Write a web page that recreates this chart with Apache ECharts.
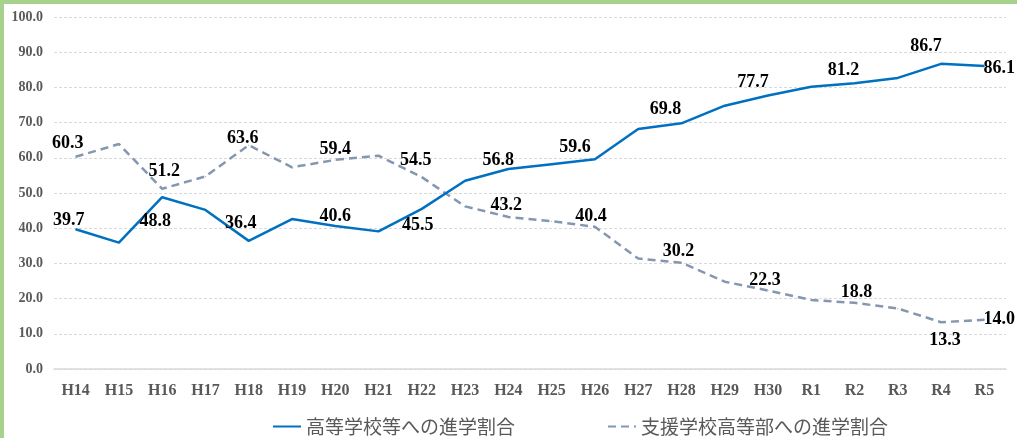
<!DOCTYPE html>
<html>
<head>
<meta charset="utf-8">
<script src="https://cdn.jsdelivr.net/npm/echarts@6/dist/echarts.min.js"></script>
<style>
  html, body { margin: 0; padding: 0; background: #fff; }
  #chart { width: 1017px; height: 438px; }
</style>
</head>
<body>
<div id="chart"></div>
<script>
// 年度
const categories = ["H14", "H15", "H16", "H17", "H18", "H19", "H20", "H21", "H22", "H23", "H24",
  "H25", "H26", "H27", "H28", "H29", "H30", "R1", "R2", "R3", "R4", "R5"];
// 高等学校等への進学割合
const highSchool = [39.7, 35.9, 48.8, 45.2, 36.4, 42.6, 40.6, 39.1, 45.5, 53.5, 56.8,
  58.2, 59.6, 68.2, 69.8, 74.8, 77.7, 80.2, 81.2, 82.7, 86.7, 86.1];
// 支援学校高等部への進学割合
const supportSchool = [60.3, 63.9, 51.2, 54.7, 63.6, 57.3, 59.4, 60.6, 54.5, 46.2, 43.2,
  42.0, 40.4, 31.4, 30.2, 24.8, 22.3, 19.6, 18.8, 17.2, 13.3, 14.0];
const yTicks = [0, 10, 20, 30, 40, 50, 60, 70, 80, 90, 100];

// ラベルの位置（点からのずれ）
const highOffsets = {0: [-7, -9], 2: [-7, 24], 4: [-8, -18], 6: [0, -10], 8: [-4, 17], 10: [-10, -9],
  12: [-20, -12], 14: [-16, -14], 16: [-15, -13], 18: [-11, -13], 20: [-15, -17], 21: [15, 2]};
const supportOffsets = {0: [-8, -13], 2: [2, -17], 4: [-6, -7], 6: [0, -11], 8: [-6, -17], 10: [-2, -12],
  12: [-4, -10], 14: [-3, -11], 16: [-3, -10], 18: [2, -10], 20: [4, 18], 21: [15, 0]};

const grey = "#595959";

function withLabels(values, offsets) {
  return values.map((v, i) => ({
    value: v,
    label: offsets[i] ? { show: true, offset: offsets[i] } : { show: false },
  }));
}

const labelStyle = {
  position: "inside",
  color: "#000",
  fontFamily: "Liberation Serif",
  fontWeight: "bold",
  fontSize: 18,
  formatter: p => p.value.toFixed(1),
};

const chart = echarts.init(document.getElementById("chart"));
chart.setOption({
  animation: false,
  graphic: [
    { type: "rect", shape: { x: 0, y: 0, width: 1017, height: 4 }, style: { fill: "#A9D18E" } },
    { type: "rect", shape: { x: 0, y: 0, width: 4, height: 438 }, style: { fill: "#A9D18E" } },
  ],
  grid: { left: 54, right: 11, top: 17, bottom: 69 },
  legend: {
    left: 267,
    top: 412,
    itemWidth: 28,
    itemHeight: 20,
    itemGap: 92,
    itemStyle: { opacity: 0 },
    textStyle: { color: grey, fontSize: 19, fontFamily: "Noto Sans CJK JP" },
  },
  xAxis: {
    type: "category",
    data: categories,
    axisLine: { lineStyle: { color: "#d9d9d9", width: 1.5 } },
    axisTick: { show: false },
    axisLabel: {
      color: grey, fontFamily: "Liberation Serif", fontWeight: "bold", fontSize: 16, margin: 14,
    },
  },
  yAxis: {
    type: "value",
    min: yTicks[0],
    max: yTicks[yTicks.length - 1],
    interval: 10,
    axisLabel: {
      color: grey, fontFamily: "Liberation Serif", fontWeight: "bold", fontSize: 14, margin: 11,
      formatter: v => v.toFixed(1),
    },
    splitLine: { lineStyle: { color: "#d9d9d9", type: [3, 2], width: 1 } },
  },
  series: [
    {
      name: "高等学校等への進学割合",
      type: "line",
      data: withLabels(highSchool, highOffsets),
      symbol: "circle",
      symbolSize: 1,
      itemStyle: { color: "#0070C0" },
      lineStyle: { color: "#0070C0", width: 2.5 },
      label: labelStyle,
      z: 3,
    },
    {
      name: "支援学校高等部への進学割合",
      type: "line",
      data: withLabels(supportSchool, supportOffsets),
      symbol: "circle",
      symbolSize: 1,
      itemStyle: { color: "#8497B0" },
      lineStyle: { color: "#8497B0", width: 2.5, type: [8, 5] },
      label: labelStyle,
      z: 2,
    },
  ],
});
</script>
</body>
</html>
